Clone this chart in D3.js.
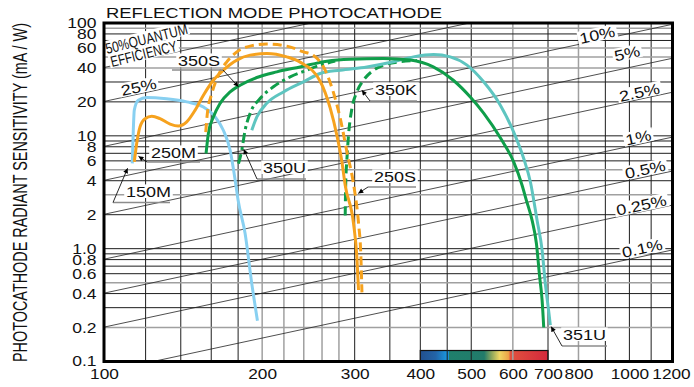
<!DOCTYPE html>
<html>
<head>
<meta charset="utf-8">
<script src="https://cdn.jsdelivr.net/npm/d3@7"></script>
<style>
  body { margin: 0; background: #fff; }
  svg { display: block; font-family: "Liberation Sans", Arial, sans-serif; }
</style>
</head>
<body>
<svg id="chart" width="694" height="387"></svg>
<script>
// spectral response curves: wavelength (nm) and radiant sensitivity (mA/W)
const nm150M = [113.2, 113.7, 114.2, 116.2, 120.6, 131.6, 143.7, 154.6, 162.7, 168.7, 173.8, 177.7, 180.0, 185.6, 191.1, 195.9]
const s150M = [5.7, 11.2, 16.9, 20.7, 21.9, 21.3, 20.0, 18.0, 14.7, 11.2, 7.45, 4.04, 2.68, 1.36, 0.49, 0.23]

const nm250M = [114.2, 115.4, 117.1, 119.7, 123.3, 127.8, 133.6, 138.5, 143.7, 149.1, 154.6, 161.5, 168.7, 179.0, 189.7, 204.1, 222.8, 236.2, 257.9, 269.5, 277.5, 283.7, 287.8, 298.5, 302.9, 305.1]
const s250M = [5.87, 8.54, 12.0, 14.2, 14.9, 14.2, 12.7, 12.2, 13.3, 16.9, 22.9, 31.1, 38.2, 46.9, 51.9, 53.7, 50.1, 45.0, 30.5, 17.6, 10.1, 5.87, 3.65, 1.67, 0.84, 0.43]

const nm250S = [156.2, 157.3, 160.4, 165.1, 171.3, 179.0, 189.7, 204.1, 222.8, 239.7, 250.1, 263.6, 273.1, 281.6, 290.0, 299.4, 305.1, 308.3, 309.7]
const s250S = [10.8, 15.8, 23.7, 34.5, 45.3, 55.5, 62.4, 65.0, 62.4, 55.5, 51.9, 38.2, 24.5, 14.3, 7.2, 3.43, 1.68, 0.84, 0.41]

const nm350S = [156.4, 158.0, 161.5, 166.3, 173.8, 181.6, 195.4, 213.3, 236.2, 265.6, 294.2, 340.4, 382.8, 423.4, 462.2, 497.9, 527.9, 568.0, 602.2, 624.8, 636.7, 652.9, 665.3, 674.9, 682.1, 687.0]
const s350S = [6.97, 10.5, 14.7, 19.4, 24.5, 28.1, 32.9, 36.9, 40.8, 45.9, 47.8, 48.5, 46.9, 40.8, 31.1, 22.1, 15.9, 9.6, 5.87, 3.65, 2.68, 1.78, 1.11, 0.56, 0.35, 0.2]

const nm351U = [191.1, 195.4, 204.1, 219.6, 239.7, 257.9, 281.6, 316.5, 355.6, 388.2, 423.9, 456.0, 490.8, 527.9, 568.0, 602.2, 629.3, 648.0, 667.3, 682.1, 691.8, 702.0, 707.2]
const s351U = [11.2, 14.7, 19.4, 24.5, 30.1, 35.7, 38.2, 40.8, 45.3, 50.1, 52.6, 50.1, 42.3, 30.1, 18.7, 10.8, 6.29, 3.90, 1.78, 0.97, 0.49, 0.28, 0.21]

const nm350U = [180.3, 182.9, 185.6, 189.7, 198.2, 210.1, 226.1, 243.3, 257.9, 275.4]
const s350U = [5.68, 7.45, 11.2, 15.8, 21.4, 27.2, 33.3, 38.2, 42.3, 45.9]

const nm350K = [287.8, 288.4, 290.0, 292.0, 296.4, 302.9, 311.8, 326.0, 340.4, 366.4, 394.0]
const s350K = [1.97, 3.65, 6.29, 10.1, 17.5, 24.5, 31.1, 38.2, 42.3, 45.3, 46.5]

// quantum efficiency reference lines (%)
const qeLevels = [50, 25, 10, 5, 2.5, 1, 0.5, 0.25, 0.1]
const qeLabels = ['25%', '10%', '5%', '2.5%', '1%', '0.5%', '0.25%', '0.1%']
const qeLabelValue = [25, 10, 5, 2.5, 1, 0.5, 0.25, 0.1]
const qeLabelNm = [117, 873, 995, 1050, 1045, 1077, 1059, 1063]
const qeLabelDy = [-1.5, 0, -9, -1.5, -1.5, -2, -1, -2.5]

const xTicks = [100, 200, 300, 400, 500, 600, 700, 800, 1000, 1200]
const yTicks = [100, 80, 60, 40, 20, 10, 8, 6, 4, 2, 1, 0.8, 0.6, 0.4, 0.2, 0.1]
const yTickLabels = ['100', '80', '60', '40', '20', '10', '8', '6', '4', '2', '1.0', '0.8', '0.6', '0.4', '0.2', '0.1']
const gridX = [120, 140, 160, 180, 200, 220, 240, 260, 280, 300, 350, 400, 450, 500, 600, 700, 800, 900, 1000, 1100]
const grayX = [200, 220, 240, 260, 280, 600, 800]
const grayY = [0.2, 0.5, 3, 5, 40, 50, 60, 90]

const svg = d3.select('#chart')

const x = d3.scaleLog().domain([100, 1200]).range([104, 671])
const y = d3.scaleLog().domain([0.1, 100]).range([361.5, 23])

const defs = svg.append('defs')
defs.append('clipPath').attr('id', 'plot')
  .append('rect')
  .attr('x', x(100)).attr('y', y(100))
  .attr('width', x(1200) - x(100)).attr('height', y(0.1) - y(100))

const grad = defs.append('linearGradient').attr('id', 'spectrum')
const stops = [
  [0, '#22508f'], [0.12, '#2364a8'], [0.2, '#1a92da'], [0.226, '#1c90d6'],
  [0.228, '#1f7f6c'], [0.5, '#227b6a'], [0.56, '#8fa85c'], [0.62, '#efd663'],
  [0.69, '#eda348'], [0.702, '#e86a3e'], [0.705, '#e0523f'], [1, '#d5283b']
]
grad.selectAll('stop').data(stops).enter().append('stop')
  .attr('offset', d => d[0]).attr('stop-color', d => d[1])

defs.append('marker')
  .attr('id', 'arrow')
  .attr('viewBox', '0 0 10 10')
  .attr('refX', 10).attr('refY', 5)
  .attr('markerWidth', 7).attr('markerHeight', 5)
  .attr('markerUnits', 'userSpaceOnUse')
  .attr('orient', 'auto')
  .append('path').attr('d', 'M0,0L10,5L0,10z').attr('fill', '#000')

// colour bar of the visible spectrum
svg.append('rect')
  .attr('x', x(400)).attr('y', 350.5)
  .attr('width', x(700) - x(400)).attr('height', 11)
  .attr('fill', 'url(#spectrum)')
  .attr('stroke', '#111').attr('stroke-width', 1.2)

// grid
const isGrayY = d => grayY.some(g => Math.abs(g - d) < 1e-6)
const grid = svg.append('g')
grid.selectAll('line.gx')
  .data(gridX)
  .enter()
  .append('line')
  .attr('x1', d => x(d)).attr('x2', d => x(d))
  .attr('y1', y(100)).attr('y2', y(0.1))
  .attr('stroke', d => grayX.includes(d) ? '#a0a0a0' : '#1e1e1e')
  .attr('stroke-width', d => grayX.includes(d) ? 1.5 : 1)

grid.selectAll('line.gy')
  .data(y.ticks().filter(v => v > 0.1 && v < 100))
  .enter()
  .append('line')
  .attr('x1', x(100)).attr('x2', x(1200))
  .attr('y1', d => y(d)).attr('y2', d => y(d))
  .attr('stroke', d => isGrayY(d) ? '#a0a0a0' : '#1e1e1e')
  .attr('stroke-width', d => isGrayY(d) ? 1.5 : 1)

// sensitivity at a given quantum efficiency: S = QE * lambda / 1239.8 (A/W)
const qeSens = (qe, nm) => qe / 100 * nm / 1.2398

svg.append('g')
  .attr('clip-path', 'url(#plot)')
  .selectAll('line')
  .data(qeLevels)
  .enter()
  .append('line')
  .attr('x1', x(100)).attr('y1', d => y(qeSens(d, 100)))
  .attr('x2', x(1200)).attr('y2', d => y(qeSens(d, 1200)))
  .attr('stroke', '#222')
  .attr('stroke-width', 0.8)

const boxLayer = svg.append('g')
const curveLayer = svg.append('g')
const textLayer = svg.append('g')

// text with a white backing box that breaks the grid behind it
function tag(str, tx, ty, o = {}) {
  const sx = o.sx ?? 1.2
  const tr = `translate(${tx},${ty}) rotate(${o.rotate || 0}) scale(${sx},1)`
  const t = textLayer.append('text')
    .attr('transform', tr)
    .attr('font-size', o.size || 15)
    .attr('text-anchor', o.anchor || 'start')
    .attr('fill', '#111')
    .text(str)
  if (o.len) t.attr('textLength', o.len).attr('lengthAdjust', 'spacingAndGlyphs')
  if (o.box !== false) {
    const b = t.node().getBBox()
    boxLayer.append('rect')
      .attr('transform', tr)
      .attr('x', b.x - 1.5).attr('y', b.y + 1)
      .attr('width', b.width + 3).attr('height', -b.y)
      .attr('fill', '#fff')
  }
  return t
}

const line = d3.line()
  .x(d => x(d[0]))
  .y(d => y(d[1]))
  .curve(d3.curveMonotoneX)

const curves = [
  { nm: nm150M, s: s150M, color: '#88d0f1', dash: null },
  { nm: nm350K, s: s350K, color: '#0f9e4a', dash: '9,5' },
  { nm: nm351U, s: s351U, color: '#5ec5c0', dash: null },
  { nm: nm350S, s: s350S, color: '#0f9e4a', dash: null },
  { nm: nm350U, s: s350U, color: '#0f9e4a', dash: '10,4,3,4' },
  { nm: nm250S, s: s250S, color: '#f6a21e', dash: '9,5' },
  { nm: nm250M, s: s250M, color: '#f6a21e', dash: null }
]

curveLayer.selectAll('path')
  .data(curves)
  .enter()
  .append('path')
  .attr('d', c => line(c.nm.map((v, i) => [v, c.s[i]])))
  .attr('fill', 'none')
  .attr('stroke', c => c.color)
  .attr('stroke-width', 3)
  .attr('stroke-dasharray', c => c.dash)

// photocathode names with underline and arrow to their curve
const names = [
  { name: '350S', tx: 178, ty: 66, u: [172, 223, 70], from: 1, tip: [180.3, 27.2] },
  { name: '250M', tx: 151, ty: 158, u: [147, 200, 162], from: 0, tip: [116.3, 6.59] },
  { name: '150M', tx: 126, ty: 197, u: [113, 170, 202.5], from: 0, tip: [110.9, 5.16] },
  { name: '350U', tx: 263, ty: 173, u: [257, 306, 179], from: 0, tip: [184.5, 7.6] },
  { name: '350K', tx: 375, ty: 95, u: [370, 417, 101], from: 0, tip: [309.6, 25.4] },
  { name: '250S', tx: 374, ty: 182, u: [368, 416, 187], from: 0, tip: [304.7, 3.09] },
  { name: '351U', tx: 563, ty: 340, u: [562, 607, 346], from: 0, tip: [709.6, 0.204] }
]

names.forEach(n => {
  tag(n.name, n.tx, n.ty)
  textLayer.append('line')
    .attr('x1', n.u[0]).attr('x2', n.u[1])
    .attr('y1', n.u[2]).attr('y2', n.u[2])
    .attr('stroke', '#8c8c8c').attr('stroke-width', 1.3)
  textLayer.append('line')
    .attr('x1', n.u[n.from]).attr('y1', n.u[2])
    .attr('x2', x(n.tip[0])).attr('y2', y(n.tip[1]))
    .attr('stroke', '#111').attr('stroke-width', 0.9)
    .attr('marker-end', 'url(#arrow)')
})

// efficiency labels sit just above their lines
const slope = Math.atan2(y(1) - y(10), x(1000) - x(100)) * 180 / Math.PI
qeLabels.forEach((lab, i) => {
  const nm = qeLabelNm[i]
  tag(lab, x(nm), y(qeSens(qeLabelValue[i], nm)) + qeLabelDy[i], { anchor: 'middle', rotate: -slope })
})
tag('50%QUANTUM', 107, 54, { size: 15, rotate: -14, len: 84, sx: 1 })
tag('EFFICIENCY', 112, 67, { size: 15, rotate: -14, len: 68, sx: 1 })

// frame
svg.append('rect')
  .attr('x', x(100)).attr('y', y(100))
  .attr('width', x(1200) - x(100) + 1.5).attr('height', y(0.1) - y(100))
  .attr('fill', 'none')
  .attr('stroke', '#000')
  .attr('stroke-width', 3)

// axes
svg.append('g')
  .attr('transform', `translate(0,${y(0.1)})`)
  .call(d3.axisBottom(x).tickValues(xTicks).tickFormat(d3.format('d')).tickSize(0).tickPadding(7))
  .call(g => g.select('.domain').remove())
  .selectAll('text')
  .attr('font-size', 15)
  .attr('font-family', '"Liberation Sans", Arial, sans-serif')
  .attr('fill', '#111')
  .attr('transform', 'scale(1.15,1)')

svg.append('g')
  .attr('transform', `translate(${x(100)},0)`)
  .call(d3.axisLeft(y).tickValues(yTicks).tickFormat((d, i) => yTickLabels[i]).tickSize(0).tickPadding(6))
  .call(g => g.select('.domain').remove())
  .selectAll('text')
  .attr('font-size', 14)
  .attr('font-family', '"Liberation Sans", Arial, sans-serif')
  .attr('fill', '#111')
  .attr('transform', 'scale(1.25,1)')

// titles
tag('REFLECTION MODE PHOTOCATHODE', 106, 18, { len: 336, sx: 1, box: false })

svg.append('text')
  .attr('transform', 'translate(27,192.5) rotate(-90) scale(1,1.35)')
  .attr('text-anchor', 'middle')
  .attr('font-size', 14.5)
  .attr('fill', '#111')
  .attr('textLength', 339)
  .attr('lengthAdjust', 'spacingAndGlyphs')
  .text('PHOTOCATHODE RADIANT SENSITIVITY (mA / W)')
</script>
</body>
</html>
